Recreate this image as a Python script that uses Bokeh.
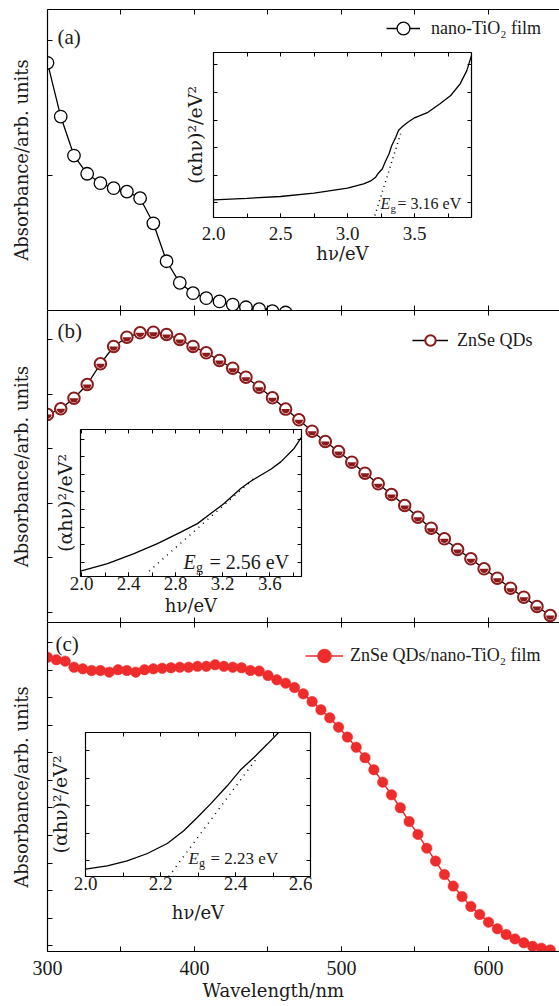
import math
from bokeh.plotting import figure
from bokeh.models import (Range1d, FixedTicker, LinearAxis, Legend, LegendItem,
                          Label, Title, GridBox, PrintfTickFormatter,
                          ColumnDataSource)
from bokeh.embed import file_html
from bokeh.resources import INLINE

# ---------------- data ----------------
# (a) nano-TiO2 film
wl_a = [300, 309, 318, 327, 336, 345, 354, 363, 372, 381, 390, 399, 408, 417,
        426, 435, 444, 453, 462]
abs_a = [1.835, 1.437, 1.148, 1.013, 0.943, 0.906, 0.881, 0.832, 0.646, 0.365,
         0.205, 0.128, 0.091, 0.067, 0.044, 0.024, 0.010, -0.005, -0.015]

# (b) ZnSe QDs
wl_b = [300, 309, 318, 327, 336, 345, 354, 363, 372, 381, 390, 399, 408, 417,
        426, 435, 444, 453, 462, 471, 480, 489, 498, 507, 516, 525, 534, 543,
        552, 561, 570, 579, 588, 597, 606, 615, 624, 633, 642]
abs_b = [3.626, 3.731, 3.925, 4.176, 4.555, 4.872, 5.042, 5.123, 5.134, 5.092,
         5.000, 4.872, 4.756, 4.615, 4.474, 4.310, 4.126, 3.932, 3.725, 3.529,
         3.321, 3.132, 2.949, 2.753, 2.551, 2.357, 2.161, 1.960, 1.745, 1.544,
         1.350, 1.154, 0.984, 0.800, 0.628, 0.445, 0.280, 0.110, -0.055]

# (c) ZnSe QDs / nano-TiO2 film
wl_c = [300, 306, 312, 318, 324, 330, 336, 342, 348, 354, 360, 366, 372, 378,
        384, 390, 396, 402, 408, 414, 420, 426, 432, 438, 444, 450, 456, 462,
        468, 474, 480, 486, 492, 498, 504, 510, 516, 522, 528, 534, 540, 546,
        552, 558, 564, 570, 576, 582, 588, 594, 600, 606, 612, 618, 624, 630,
        636, 642]
abs_c = [10.48, 10.39, 10.34, 10.12, 10.06, 10.00, 10.00, 9.94, 10.03, 10.00,
         9.94, 10.03, 10.06, 10.08, 10.10, 10.12, 10.12, 10.15, 10.15, 10.21,
         10.15, 10.12, 10.10, 10.00, 9.98, 9.82, 9.66, 9.54, 9.38, 9.15,
         8.87, 8.57, 8.28, 7.94, 7.58, 7.21, 6.83, 6.39, 5.94, 5.48,
         5.01, 4.51, 4.04, 3.54, 3.07, 2.58, 2.16, 1.78, 1.42, 1.13,
         0.85, 0.61, 0.40, 0.24, 0.10, -0.03, -0.10, -0.16]

# insets: (alpha h nu)^2 vs h nu
ev_a = [2.0, 2.25, 2.5, 2.75, 3.0, 3.12, 3.17, 3.21, 3.23, 3.26, 3.28, 3.31,
        3.33, 3.36, 3.38, 3.41, 3.45, 3.50, 3.60, 3.69, 3.77, 3.84, 3.89, 3.925]
ah_a = [0.109, 0.163, 0.228, 0.348, 0.529, 0.688, 0.783, 0.928, 1.072, 1.232,
        1.471, 1.775, 2.076, 2.377, 2.62, 2.764, 2.92, 3.08, 3.28, 3.587,
        3.888, 4.31, 4.79, 5.34]
fit_a_ev = [3.204, 3.396]
fit_a = [-0.46, 2.5]

ev_b = [1.99, 2.22, 2.445, 2.644, 2.843, 2.985, 3.098, 3.211, 3.353, 3.438,
        3.523, 3.609, 3.694, 3.807, 3.872]
ah_b = [-0.514, -0.091, 0.48, 1.052, 1.714, 2.194, 2.766, 3.337, 4.194, 4.612,
        4.954, 5.297, 5.714, 6.48, 7.143]
fit_b_ev = [2.573, 3.466]
fit_b = [-0.514, 4.763]

ev_c = [2.0, 2.058, 2.111, 2.165, 2.218, 2.262, 2.298, 2.333, 2.378, 2.413,
        2.449, 2.485, 2.515]
ah_c = [-0.302, -0.182, 0.0, 0.265, 0.629, 1.091, 1.575, 2.062, 2.727, 3.298,
        3.756, 4.244, 4.665]
fit_c_ev = [2.222, 2.458]
fit_c = [-0.571, 3.756]

eg_texts = ["= 3.16 eV", "= 2.56 eV", "= 2.23 eV"]
legend_labels = ["nano-TiO\u2082 film", "ZnSe QDs", "ZnSe QDs/nano-TiO\u2082 film"]
panel_tags = ["(a)", "(b)", "(c)"]
x_title = "Wavelength/nm"
y_title = "Absorbance/arb. units"

# ticks
x_major = [300, 400, 500, 600]
x_minor = [300, 350, 400, 450, 500, 550, 600, 650]
ya_ticks = [0, 1, 2]
yb_ticks = [0, 1, 2, 3, 4, 5]
yc_ticks = [0, 1, 2, 3, 4, 5, 6, 7, 8, 9, 10, 11]

ia_major = [2.0, 2.5, 3.0, 3.5]
ia_minor = [2.0, 2.25, 2.5, 2.75, 3.0, 3.25, 3.5, 3.75]
ia_y = [0, 1, 2, 3, 4, 5]
ib_major = [2.0, 2.4, 2.8, 3.2, 3.6]
ib_minor = [2.0, 2.2, 2.4, 2.6, 2.8, 3.0, 3.2, 3.4, 3.6, 3.8]
ib_y = [0, 1, 2, 3, 4, 5, 6, 7]
ic_major = [2.0, 2.2, 2.4, 2.6]
ic_minor = [2.0, 2.1, 2.2, 2.3, 2.4, 2.5, 2.6]
ic_y = [0, 1, 2, 3, 4]

NUM_FONT = "Liberation Serif"
LAB_FONT = "DejaVu Serif"
TXT = "#1a1a1a"
DARK = "#8B1A1A"
RED = "#EE2C2C"


def style(ax, tick=5, size="20px", line=True):
    ax.axis_line_color = "black" if line else None
    ax.axis_line_width = 1.2
    ax.major_tick_in = tick
    ax.major_tick_out = 0
    ax.minor_tick_in = tick
    ax.minor_tick_out = 0
    ax.major_tick_line_width = 1
    ax.minor_tick_line_width = 1
    ax.major_label_text_font = NUM_FONT
    ax.major_label_text_color = TXT
    ax.major_label_text_font_size = size
    ax.axis_label_text_font = LAB_FONT
    ax.axis_label_text_font_style = "normal"
    ax.axis_label_text_color = TXT


def bare_ticker(ticks):
    # every tick drawn as a minor tick -> tick marks without any label
    return FixedTicker(ticks=[], minor_ticks=ticks)


def make_main(height, bt, bb, yr, yticks, xlabels):
    p = figure(width=559, height=height, x_range=Range1d(300, 648.3),
               y_range=Range1d(*yr), output_backend="svg", toolbar_location=None,
               min_border_left=47, min_border_right=0, min_border_top=bt,
               min_border_bottom=bb)
    p.frame_align = False
    p.outline_line_color = None
    p.xgrid.visible = False
    p.ygrid.visible = False
    p.background_fill_color = "white"
    p.border_fill_color = "white"
    bx = p.xaxis[0]
    if xlabels:
        bx.ticker = FixedTicker(ticks=x_major, minor_ticks=x_minor)
        bx.formatter = PrintfTickFormatter(format="%d")
    else:
        bx.ticker = bare_ticker(x_minor)
    style(bx)
    bx.major_label_standoff = 9 if xlabels else 0
    ly = p.yaxis[0]
    ly.ticker = bare_ticker(yticks)
    style(ly)
    ly.major_label_standoff = 0
    ly.axis_label = y_title
    ly.axis_label_text_font_size = "18px"
    ly.axis_label_standoff = 16
    top = LinearAxis(ticker=bare_ticker(x_minor))
    style(top)
    top.major_label_standoff = 0
    p.add_layout(top, "above")
    return p


def make_inset(fw, fh, bl, bb, xr, yr, xmaj, xmin, yt, lab_size, tick_standoff,
               xl_standoff, yl_standoff):
    w = bl + fw + 2
    h = 2 + fh + bb
    p = figure(width=w, height=h, x_range=Range1d(*xr), y_range=Range1d(*yr),
               output_backend="svg", toolbar_location=None,
               min_border_left=bl, min_border_right=2, min_border_top=2,
               min_border_bottom=bb)
    p.frame_align = False
    p.outline_line_color = "black"
    p.outline_line_width = 1.2
    p.border_fill_color = None
    p.background_fill_color = "white"
    p.xgrid.visible = False
    p.ygrid.visible = False
    bx = p.xaxis[0]
    bx.ticker = FixedTicker(ticks=xmaj, minor_ticks=xmin)
    bx.formatter = PrintfTickFormatter(format="%.1f")
    style(bx, tick=4, size=lab_size, line=False)
    bx.major_label_standoff = tick_standoff
    bx.axis_label = "h\u03bd/eV"
    bx.axis_label_text_font_size = "18px"
    bx.axis_label_standoff = xl_standoff
    ly = p.yaxis[0]
    ly.ticker = bare_ticker(yt)
    style(ly, tick=4, line=False)
    ly.major_label_standoff = 0
    ly.axis_label = "(\u03b1h\u03bd)\u00b2/eV\u00b2"
    ly.axis_label_text_font_size = "19px"
    ly.axis_label_standoff = yl_standoff
    top = LinearAxis(ticker=bare_ticker(xmin))
    style(top, tick=4, line=False)
    top.major_label_standoff = 0
    p.add_layout(top, "above")
    right = LinearAxis(ticker=bare_ticker(yt))
    style(right, tick=4, line=False)
    right.major_label_standoff = 0
    p.add_layout(right, "right")
    return p


def eg_label(p, x0, y0, size, text, gap):
    p.add_layout(Label(x=x0, y=y0, x_units="screen", y_units="screen", text="E",
                       text_font=NUM_FONT, text_font_style="italic",
                       text_font_size=f"{size}px", text_baseline="middle",
                       text_color=TXT))
    p.add_layout(Label(x=x0 + size * 0.62, y=y0 - size * 0.28, x_units="screen",
                       y_units="screen", text="g", text_font=NUM_FONT,
                       text_font_size=f"{round(size * 0.7)}px",
                       text_baseline="middle", text_color=TXT))
    p.add_layout(Label(x=x0 + gap, y=y0, x_units="screen", y_units="screen",
                       text=text, text_font=NUM_FONT,
                       text_font_size=f"{size}px", text_baseline="middle",
                       text_color=TXT))


def add_legend(p, renderers, label, loc, gw, gh, standoff):
    leg = Legend(items=[LegendItem(label=label, renderers=renderers)],
                 location=loc, padding=0, margin=0, spacing=0,
                 border_line_color=None, background_fill_alpha=0,
                 glyph_width=gw, glyph_height=gh, label_standoff=standoff,
                 label_text_font=NUM_FONT, label_text_font_size="18px",
                 label_text_color=TXT, label_height=20)
    p.add_layout(leg)


def tag(p, text, x, y):
    p.add_layout(Label(x=x, y=y, x_units="screen", y_units="screen", text=text,
                       text_font=NUM_FONT, text_font_size="21px",
                       text_baseline="middle", text_color=TXT))


# ---------------- panel (a) ----------------
pa = make_main(310, 9, 0, (0, 2.23), ya_ticks, False)
src_a = ColumnDataSource(dict(x=wl_a, y=abs_a))
la = pa.line("x", "y", source=src_a, line_color="black", line_width=1.3)
ca = pa.scatter("x", "y", source=src_a, marker="circle", size=12.5,
                fill_color="white", line_color="black", line_width=1.3)
add_legend(pa, [la, ca], legend_labels[0], (339, 266), 34, 32, 11)
tag(pa, panel_tags[0], 10, 274)

# ---------------- panel (b) ----------------
pb = make_main(312, 0, 0, (-0.183, 5.531), yb_ticks, False)
src_b = ColumnDataSource(dict(x=wl_b, y=abs_b))
lb = pb.line("x", "y", source=src_b, line_color="black", line_width=1.3)
cb = pb.scatter("x", "y", source=src_b, marker="circle", size=11.5,
                fill_color="white", line_color=DARK, line_width=2)
pb.wedge("x", "y", source=src_b, radius=4.2, radius_units="screen",
         start_angle=math.pi, end_angle=2 * math.pi, fill_color=DARK,
         line_color=None)
add_legend(pb, [lb, cb], legend_labels[1], (365, 269), 36, 26, 9)
tag(pb, panel_tags[1], 10, 292)

# ---------------- panel (c) ----------------
pc = make_main(383, 0, 54, (-0.218, 11.745), yc_ticks, True)
src_c = ColumnDataSource(dict(x=wl_c, y=abs_c))
lc = pc.line("x", "y", source=src_c, line_color=RED, line_width=1.5)
cc = pc.scatter("x", "y", source=src_c, marker="circle", size=10.5,
                fill_color=RED, line_color=RED, line_width=0.5)
add_legend(pc, [lc, cc], legend_labels[2], (258, 278), 38, 35, 7)
tag(pc, panel_tags[2], 8, 308)
pc.add_layout(Title(text=x_title, align="left", offset=155, standoff=0,
                    text_font=LAB_FONT, text_font_size="18px",
                    text_font_style="normal", text_color=TXT), "below")

# ---------------- insets ----------------
ia = make_inset(258, 165, 36, 55, (2.0, 3.925), (-0.533, 5.446), ia_major,
                ia_minor, ia_y, "19px", 9, 0, 8)
ia.line(ev_a, ah_a, line_color="black", line_width=1.3)
ia.line(fit_a_ev, fit_a, line_color="black", line_width=1.5, line_dash="1 4")
eg_label(ia, 167, 14, 16, eg_texts[0], 17)
ia.margin = (50, 0, 0, 177)

ib = make_inset(221, 147, 30, 46, (1.99, 3.87), (-0.82, 7.56), ib_major,
                ib_minor, ib_y, "19px", 0, 2, 5)
ib.line(ev_b, ah_b, line_color="black", line_width=1.3)
ib.line(fit_b_ev, fit_b, line_color="black", line_width=1.5, line_dash="1 5")
eg_label(ib, 103, 15, 20, eg_texts[1], 26)
ib.margin = (117, 0, 0, 50)

ic = make_inset(225, 144, 40, 55, (2.0, 2.6), (-0.571, 4.665), ic_major,
                ic_minor, ic_y, "19px", 0, 9, 15)
ic.line(ev_c, ah_c, line_color="black", line_width=1.3)
ic.line(fit_c_ev, fit_c, line_color="black", line_width=1.5, line_dash="1 5")
eg_label(ic, 103, 18, 17, eg_texts[2], 22)
ic.margin = (108, 0, 0, 45)

for f in (ia, ib, ic):
    f.align = "start"

grid = GridBox(children=[(pa, 0, 0), (pb, 1, 0), (pc, 2, 0),
                         (ia, 0, 0), (ib, 1, 0), (ic, 2, 0)], spacing=0)

open("out.html", "w").write(file_html(grid, INLINE))
